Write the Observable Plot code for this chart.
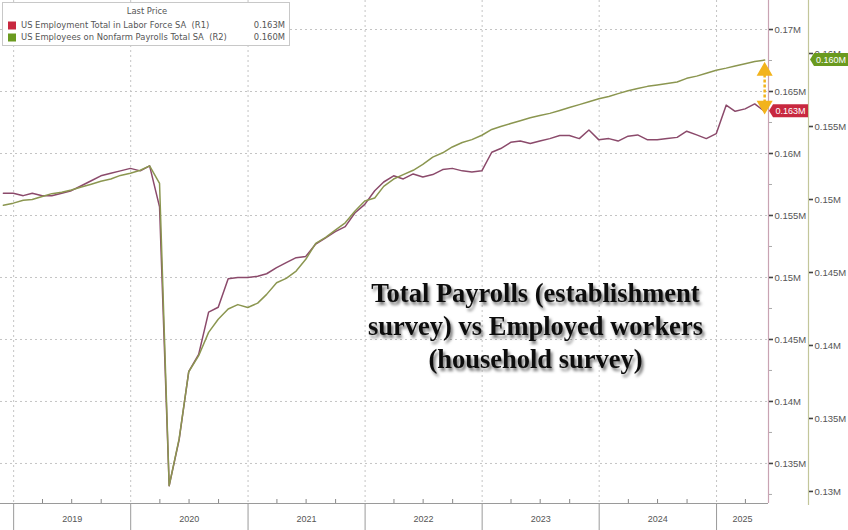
<!DOCTYPE html>
<html><head><meta charset="utf-8">
<script src="https://cdn.jsdelivr.net/npm/d3@7"></script>
<script src="https://cdn.jsdelivr.net/npm/@observablehq/plot@0.6"></script>
<style>body{margin:0;background:#fff}</style>
</head><body><div id="chart"></div>
<script>
// ---- data (millions), monthly, month-end, Nov 2018 .. May 2025 ----
const startMonth = "2018-11";
const household = [
  156.8, 156.8,
  156.6, 156.8, 156.6, 156.6, 156.8, 157.0, 157.4, 157.8, 158.2, 158.4, 158.6, 158.8,
  158.6, 159.0, 155.7, 133.2, 136.9, 142.4, 143.8, 147.2, 147.6, 149.9, 150.0, 150.0,
  150.1, 150.3, 150.8, 151.2, 151.6, 151.7, 152.7, 153.2, 153.7, 154.1, 155.2, 155.9,
  157.0, 157.7, 158.2, 157.95, 158.35, 158.1, 158.3, 158.7, 158.8, 158.6, 158.5, 158.6,
  160.1, 160.4, 160.9, 161.0, 160.8, 161.0, 161.2, 161.45, 161.45, 161.2, 161.9, 161.1,
  161.2, 161.0, 161.4, 161.5, 161.1, 161.1, 161.2, 161.3, 161.8, 161.5, 161.2, 161.6,
  163.9, 163.4, 163.6, 164.0, 163.4
];
const payrolls = [
  149.6, 149.75,
  149.95, 150.0, 150.2, 150.4, 150.5, 150.65, 150.85, 151.05, 151.25, 151.4, 151.65, 151.8,
  152.0, 152.3, 151.1, 130.4, 133.6, 138.2, 139.3, 140.9, 141.8, 142.5, 142.8, 142.6,
  142.9, 143.5, 144.3, 144.6, 145.1, 145.9, 147.0, 147.4, 147.9, 148.4, 149.2, 149.9,
  150.1, 150.9, 151.4, 151.7, 152.0, 152.4, 152.9, 153.2, 153.6, 153.9, 154.1, 154.4,
  154.8, 155.0, 155.2, 155.4, 155.6, 155.75, 155.9, 156.1, 156.3, 156.5, 156.7, 156.9,
  157.05, 157.25, 157.45, 157.6, 157.75, 157.85, 157.95, 158.05, 158.3, 158.45, 158.65, 158.85,
  159.0, 159.15, 159.3, 159.45, 159.55
];
const seriesNames = ["US Employment Total in Labor Force SA  (R1)", "US Employees on Nonfarm Payrolls Total SA  (R2)"];
const lastLabels = ["0.163M", "0.160M"];
const legendTitle = "Last Price";
const yearLabels = ["2019", "2020", "2021", "2022", "2023", "2024", "2025"];
const r1Ticks = [135, 140, 145, 150, 155, 160, 165, 170];
const r1Minor = [132.5, 137.5, 142.5, 147.5, 152.5, 157.5, 162.5, 167.5, 172.5];
const r2Ticks = [130, 135, 140, 145, 150, 155, 160];
const annotation = "Total Payrolls (establishment\nsurvey) vs Employed workers\n(household survey)";

const colors = {red: "#8b4a6b", green: "#8b9650", tagRed: "#c8283f", tagGreen: "#6a9a1f", arrow: "#f2b31c"};

// ---- derived ----
const [sy, sm] = startMonth.split("-").map(Number);
const start = new Date(Date.UTC(sy, sm - 1, 1));
const dates = household.map((_, i) => d3.utcDay.offset(d3.utcMonth.offset(start, i + 1), -1));
// R2 (right-most axis) mapped onto R1 units
const toR1 = d3.scaleLinear().domain([130, 160]).range([-20.323 + 1.17742 * 130, -20.323 + 1.17742 * 160]);
const rows = dates.map((date, i) => ({date, household: household[i], payrolls: toR1(payrolls[i])}));

const xDomain = [new Date(Date.UTC(2018, 10, 21)), new Date(Date.UTC(2025, 5, 12))];
const yDomain = [131.77, 172.34];
const yearStarts = yearLabels.map(y => new Date(Date.UTC(+y, 0, 1)));
const labelPos = yearLabels.map(y => {
  const a = Math.max(+new Date(Date.UTC(+y, 0, 1)), +xDomain[0]);
  const b = Math.min(+new Date(Date.UTC(+y + 1, 0, 1)), +xDomain[1]);
  return {label: y, date: new Date((a + b) / 2)};
});
const quarterTicks = d3.utcMonth.every(3).range(xDomain[0], xDomain[1]).filter(d => d.getUTCMonth() !== 0);
const fmtM = v => `${+(v / 1000).toFixed(4)}M`;
const last = rows[rows.length - 1];

const chart = Plot.plot({
  width: 848, height: 530,
  marginLeft: 0, marginRight: 80, marginTop: 0, marginBottom: 27,
  style: {background: "#fff", fontFamily: "'Liberation Sans', Arial, sans-serif", fontSize: "9px", color: "#444"},
  x: {type: "utc", domain: xDomain},
  y: {domain: yDomain},
  marks: [
    Plot.ruleY(r1Ticks, {stroke: "#c4c4c4", strokeDasharray: "2,3"}),
    Plot.ruleX(yearStarts, {stroke: "#c4c4c4", strokeDasharray: "2,3"}),
    Plot.ruleX(quarterTicks, {stroke: "#888", insetTop: 499}),
    Plot.ruleY([yDomain[0]], {stroke: "#9a9a9a", strokeWidth: 1.2}),
    Plot.ruleX([xDomain[1]], {stroke: "#c9a3b3", strokeWidth: 1.2}),
    Plot.ruleX([xDomain[1]], {dx: 40, stroke: "#c3c69a", strokeWidth: 1.2, insetBottom: -2}),
    Plot.axisX({ticks: yearStarts, tickSize: 27, tickFormat: () => "", stroke: "#9a9a9a"}),
    Plot.text(labelPos, {x: "date", y: yDomain[0], dy: 16, text: "label", fill: "#555", fontSize: 9}),
    Plot.axisY({anchor: "right", ticks: r1Minor, tickSize: 3, tickFormat: () => "", stroke: "#aaa"}),
    Plot.axisY({anchor: "right", ticks: r1Ticks, tickSize: 4, tickPadding: 2, strokeWidth: 1.6, tickFormat: fmtM, fill: "#555", fontSize: 9.5}),
    Plot.axisY({anchor: "right", ticks: r2Ticks.map(toR1), dx: 40, tickSize: 4, tickPadding: 2, strokeWidth: 1.6, fill: "#555", fontSize: 9.5,
      tickFormat: d => fmtM(Math.round(toR1.invert(d) * 2) / 2)}),
    Plot.lineY(rows, {x: "date", y: "household", stroke: colors.red, strokeWidth: 1.5}),
    Plot.lineY(rows, {x: "date", y: "payrolls", stroke: colors.green, strokeWidth: 1.5}),
    Plot.ruleX([last], {x: "date", y1: "payrolls", y2: "household", stroke: colors.arrow, strokeWidth: 2.5, strokeDasharray: "3,2", insetTop: 10, insetBottom: 6}),
    Plot.dot([last], {x: "date", y: "payrolls", dy: 11, symbol: "triangle", r: 5, fill: colors.arrow, stroke: colors.arrow}),
    Plot.dot([last], {x: "date", y: "household", dy: -6, symbol: "triangle", rotate: 180, r: 5, fill: colors.arrow, stroke: colors.arrow}),
    Plot.text([annotation], {frameAnchor: "top-left", dx: 535, dy: 278, lineAnchor: "top", textAnchor: "middle",
      fontFamily: "'Liberation Serif', 'DejaVu Serif', serif", fontWeight: "bold", fontSize: 26.5, lineHeight: 1.25, fill: "#111"})
  ]
});

document.getElementById("chart").appendChild(chart);

// ---- decorations through the plot's scales ----
const svg = d3.select(chart);
const X = chart.scale("x"), Y = chart.scale("y");
const defs = svg.insert("defs", ":first-child");
const f = defs.append("filter").attr("id", "shadow").attr("x", "-10%").attr("y", "-10%").attr("width", "130%").attr("height", "140%");
f.append("feDropShadow").attr("dx", 2).attr("dy", 3).attr("stdDeviation", 1.8).attr("flood-color", "#000").attr("flood-opacity", 0.55);
svg.selectAll("text").filter(function() { return this.textContent.startsWith("Total Payrolls"); })
  .each(function() { d3.select(this.parentNode.tagName === "g" ? this.parentNode : this).attr("filter", "url(#shadow)"); });

// last-value tags
const xr = X.apply(xDomain[1]);
function tag(x0, yc, w, fill, label) {
  const g = svg.append("g");
  g.append("polygon").attr("points", [[x0, yc], [x0 + 4, yc - 6.5], [x0 + w, yc - 6.5], [x0 + w, yc + 6.5], [x0 + 4, yc + 6.5]].join(" ")).attr("fill", fill);
  g.append("text").attr("x", x0 + 4 + (w - 4) / 2).attr("y", yc).attr("dy", "0.35em").attr("text-anchor", "middle")
    .attr("fill", "#fff").attr("font-size", 9).attr("font-family", "'Liberation Sans', Arial, sans-serif").text(label);
}
tag(xr + 1, Y.apply(last.household), 39, colors.tagRed, lastLabels[0]);
tag(xr + 42, Y.apply(last.payrolls), 38, colors.tagGreen, lastLabels[1]);

// legend
const lg = svg.append("g").attr("font-family", "'DejaVu Sans', Verdana, sans-serif").attr("font-size", 8.4).attr("fill", "#555").attr("text-anchor", "start");
lg.append("rect").attr("x", 2.5).attr("y", 2.5).attr("width", 287).attr("height", 43).attr("fill", "#fff").attr("stroke", "#c8c8c8");
lg.append("text").attr("x", 147).attr("y", 14).attr("text-anchor", "middle").text(legendTitle);
[colors.tagRed, colors.tagGreen].forEach((c, i) => {
  const yy = 25.5 + i * 12;
  lg.append("rect").attr("x", 8).attr("y", yy - 4).attr("width", 8).attr("height", 8).attr("fill", c);
  lg.append("text").attr("x", 21).attr("y", yy).attr("dy", "0.35em").attr("text-anchor", "start").text(seriesNames[i]);
  lg.append("text").attr("x", 285).attr("y", yy).attr("dy", "0.35em").attr("text-anchor", "end").text(lastLabels[i]);
});
</script>
</body></html>
